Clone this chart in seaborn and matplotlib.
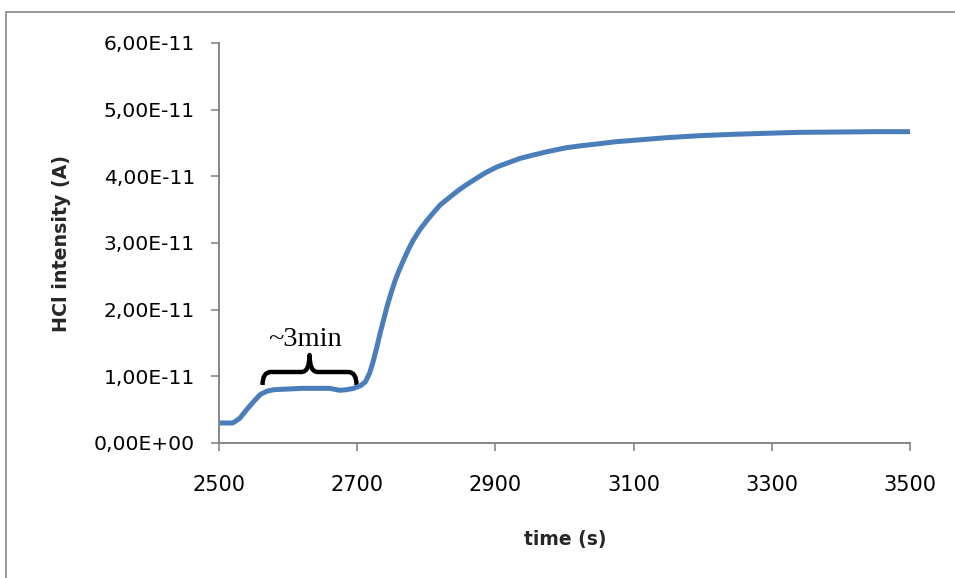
import matplotlib
matplotlib.use("Agg")
import matplotlib.pyplot as plt
from matplotlib.path import Path
from matplotlib.patches import PathPatch, Rectangle
import pandas as pd
import seaborn as sns

# HCl signal vs time
time_s = [2500, 2510, 2520, 2530, 2540, 2550, 2560, 2570, 2580, 2600, 2620, 2640,
          2660, 2675, 2685, 2695, 2705, 2712, 2718, 2723, 2728, 2733, 2738, 2743,
          2749, 2755, 2761, 2767, 2774, 2781, 2790, 2801, 2810, 2820, 2832, 2844,
          2856, 2868, 2885, 2902, 2920, 2936, 2955, 2975, 3003, 3025, 3051, 3075,
          3100, 3148, 3196, 3244, 3290, 3341, 3400, 3450, 3500]
hcl_e11 = [0.30, 0.30, 0.30, 0.37, 0.50, 0.62, 0.73, 0.78, 0.80, 0.81, 0.82, 0.82,
           0.82, 0.79, 0.80, 0.82, 0.86, 0.92, 1.05, 1.22, 1.42, 1.64, 1.84, 2.04,
           2.25, 2.44, 2.60, 2.74, 2.90, 3.04, 3.19, 3.34, 3.45, 3.57, 3.67, 3.77,
           3.86, 3.94, 4.05, 4.14, 4.21, 4.27, 4.32, 4.37, 4.43, 4.46, 4.49, 4.52,
           4.54, 4.58, 4.61, 4.63, 4.645, 4.66, 4.665, 4.67, 4.67]
hcl_A = [v * 1e-11 for v in hcl_e11]

x_ticks = [2500, 2700, 2900, 3100, 3300, 3500]
y_ticks = [0, 1e-11, 2e-11, 3e-11, 4e-11, 5e-11, 6e-11]

# plateau bracket (~3 min)
plateau_start, plateau_end = 2563, 2699
plateau_label = "~3min"

df = pd.DataFrame({"time": time_s, "HCl": hcl_A})

sns.set_theme(style="white")
plt.rcParams["font.family"] = ["DejaVu Sans"]
grey = "#868686"

W, H = 955, 578
fig = plt.figure(figsize=(W / 100, H / 100), dpi=100)
ax = fig.add_axes([219 / W, 1 - 443 / H, (910 - 219) / W, (443 - 43) / H])

sns.lineplot(data=df, x="time", y="HCl", ax=ax, color="#4a7ebb", linewidth=3.6,
             solid_capstyle="round", solid_joinstyle="round")

ax.set_xlim(2500, 3500)
ax.set_ylim(0, 6e-11)
ax.set_xticks(x_ticks)
ax.set_yticks(y_ticks)
ax.set_xticklabels([str(t) for t in x_ticks], fontsize=15)
ax.set_yticklabels([f"{v:.2E}".replace(".", ",") for v in y_ticks], fontsize=14.6)
ax.tick_params(axis="both", which="major", direction="out", length=5.8, width=1.2,
               color=grey, labelcolor="black", bottom=True, left=True)
ax.tick_params(axis="x", pad=17)
ax.tick_params(axis="y", pad=11.5)

for side in ["top", "right"]:
    ax.spines[side].set_visible(False)
for side in ["left", "bottom"]:
    ax.spines[side].set_color(grey)
    ax.spines[side].set_linewidth(1.4)
ax.grid(False)
ax.set_xlabel("")
ax.set_ylabel("")

fig.text(565 / W, 1 - 540 / H, "time (s)", fontweight="bold", fontsize=13.5,
         ha="center", va="center")
fig.text(61 / W, 1 - 243 / H, "HCl intensity (A)", fontweight="bold",
         fontsize=13.7, rotation=90, ha="center", va="center")

# curly brace over the plateau
x0, x1 = plateau_start, plateau_end
xm = 0.5 * (x0 + x1)
yb, ybar, ytip = 0.87e-11, 1.065e-11, 1.32e-11
dx = 12
verts = [
    (x0, yb), (x0, ybar), (x0 + dx, ybar),
    (xm - dx, ybar),
    (xm, ybar), (xm, ytip),
    (xm, ybar), (xm + dx, ybar),
    (x1 - dx, ybar),
    (x1, ybar), (x1, yb),
]
codes = [Path.MOVETO, Path.CURVE3, Path.CURVE3,
         Path.LINETO,
         Path.CURVE3, Path.CURVE3,
         Path.CURVE3, Path.CURVE3,
         Path.LINETO,
         Path.CURVE3, Path.CURVE3]
ax.add_patch(PathPatch(Path(verts, codes), fill=False, edgecolor="black",
                       linewidth=3.2, capstyle="butt", joinstyle="round"))
ax.text(xm - 7, 1.46e-11, plateau_label, fontfamily="Liberation Serif",
        fontsize=20.5, ha="center", va="baseline", color="black")

# chart-area border
fig.patches.append(Rectangle((6 / W, -0.1), 1.2, (H - 12) / H + 0.1,
                             transform=fig.transFigure, fill=False,
                             edgecolor=grey, linewidth=1.2))

fig.savefig("out.png", dpi=100)
